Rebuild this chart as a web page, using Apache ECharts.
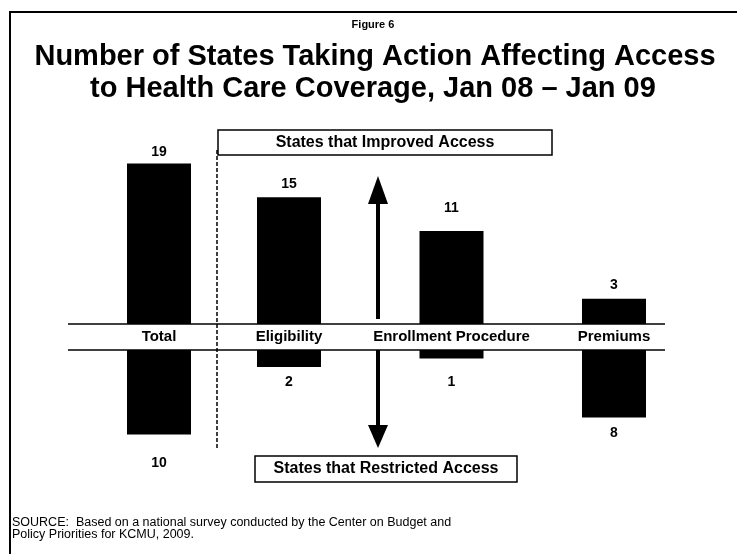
<!DOCTYPE html>
<html>
<head>
<meta charset="utf-8">
<script src="https://cdn.jsdelivr.net/npm/echarts@6/dist/echarts.min.js"></script>
<style>
  html, body { margin: 0; padding: 0; background: #fff; }
  #chart { width: 737px; height: 554px; }
</style>
</head>
<body>
<div id="chart"></div>
<script>
// data
const categories = ["Total", "Eligibility", "Enrollment Procedure", "Premiums"];
const improved = [19, 15, 11, 3];
const restricted = [10, 2, 1, 8];

// layout: which slot of the x axis each category sits in, and label gaps
const slotOf = [0, 4, 9, 14];
const SLOTS = 15;
const upGap = [4, 6, 16, 7];
const downGap = [22, 8, 17, 9];

const FONT = "'Liberation Sans', Arial, Helvetica, sans-serif";

const slotNames = [];
const upData = [];
const downData = [];
for (let i = 0; i < SLOTS; i++) {
  slotNames.push("");
  upData.push("-");
  downData.push("-");
}
categories.forEach((c, i) => {
  const s = slotOf[i];
  slotNames[s] = c;
  upData[s] = { value: improved[i], label: { distance: upGap[i] } };
  downData[s] = { value: restricted[i], label: { distance: downGap[i] } };
});

const chart = echarts.init(document.getElementById("chart"));

const gridLeft = 142.75;
const gridWidth = 487.5;

const barLabel = {
  show: true,
  color: "#000",
  fontFamily: FONT,
  fontSize: 14,
  fontWeight: "bold",
};

const option = {
  animation: false,
  backgroundColor: "#fff",
  textStyle: { fontFamily: FONT },
  grid: [
    { left: gridLeft, width: gridWidth, top: 155, height: 169 },
    { left: gridLeft, width: gridWidth, top: 350, height: 169 },
  ],
  xAxis: [
    {
      type: "category",
      gridIndex: 0,
      data: slotNames,
      axisLine: { show: false },
      axisTick: { show: false },
      axisLabel: {
        interval: 0,
        margin: 5,
        color: "#000",
        fontFamily: FONT,
        fontSize: 15,
        fontWeight: "bold",
      },
    },
    {
      type: "category",
      gridIndex: 1,
      data: slotNames,
      axisLine: { show: false },
      axisTick: { show: false },
      axisLabel: { show: false },
    },
  ],
  yAxis: [
    { type: "value", gridIndex: 0, min: 0, max: 20, show: false },
    { type: "value", gridIndex: 1, min: 0, max: 20, inverse: true, show: false },
  ],
  series: [
    {
      name: "States that Improved Access",
      type: "bar",
      xAxisIndex: 0,
      yAxisIndex: 0,
      clip: false,
      barWidth: 64,
      barMinWidth: 64,
      itemStyle: { color: "#000" },
      label: Object.assign({ position: "top" }, barLabel),
      data: upData,
    },
    {
      name: "States that Restricted Access",
      type: "bar",
      xAxisIndex: 1,
      yAxisIndex: 1,
      clip: false,
      barWidth: 64,
      barMinWidth: 64,
      itemStyle: { color: "#000" },
      label: Object.assign({ position: "bottom" }, barLabel),
      data: downData,
    },
  ],
  graphic: [
    // frame
    {
      type: "polyline",
      shape: { points: [[10, 554], [10, 12], [737, 12]] },
      style: { stroke: "#000", lineWidth: 2, fill: null },
    },
    // titles
    {
      type: "text",
      x: 373,
      y: 25,
      style: {
        text: "Figure 6",
        fill: "#000",
        font: "bold 11px " + FONT,
        textAlign: "center",
        textVerticalAlign: "middle",
      },
    },
    {
      type: "text",
      x: 375,
      y: 57,
      style: {
        text: "Number of States Taking Action Affecting Access",
        fill: "#000",
        font: "bold 29px " + FONT,
        textAlign: "center",
        textVerticalAlign: "middle",
      },
    },
    {
      type: "text",
      x: 373,
      y: 89,
      style: {
        text: "to Health Care Coverage, Jan 08 \u2013 Jan 09",
        fill: "#000",
        font: "bold 29px " + FONT,
        textAlign: "center",
        textVerticalAlign: "middle",
      },
    },
    // band lines
    {
      type: "line",
      shape: { x1: 68, y1: 324, x2: 665, y2: 324 },
      style: { stroke: "#000", lineWidth: 1.5 },
      z: 10,
    },
    {
      type: "line",
      shape: { x1: 68, y1: 350, x2: 665, y2: 350 },
      style: { stroke: "#000", lineWidth: 1.5 },
      z: 10,
    },
    // dashed separator
    {
      type: "line",
      shape: { x1: 217, y1: 150, x2: 217, y2: 450 },
      style: { stroke: "#000", lineWidth: 1.5, lineDash: [4, 2] },
    },
    // arrows
    {
      type: "polygon",
      shape: { points: [[378, 176], [388, 204], [368, 204]] },
      style: { fill: "#000" },
    },
    {
      type: "rect",
      shape: { x: 376, y: 202, width: 4, height: 117 },
      style: { fill: "#000" },
    },
    {
      type: "rect",
      shape: { x: 376, y: 350, width: 4, height: 77 },
      style: { fill: "#000" },
    },
    {
      type: "polygon",
      shape: { points: [[368, 425], [388, 425], [378, 448]] },
      style: { fill: "#000" },
    },
    // boxes
    {
      type: "rect",
      shape: { x: 218, y: 130, width: 334, height: 25 },
      style: { fill: "#fff", stroke: "#000", lineWidth: 1.5 },
    },
    {
      type: "text",
      x: 385,
      y: 142.5,
      style: {
        text: "States that Improved Access",
        fill: "#000",
        font: "bold 16px " + FONT,
        textAlign: "center",
        textVerticalAlign: "middle",
      },
    },
    {
      type: "rect",
      shape: { x: 255, y: 456, width: 262, height: 26 },
      style: { fill: "#fff", stroke: "#000", lineWidth: 1.5 },
    },
    {
      type: "text",
      x: 386,
      y: 469,
      style: {
        text: "States that Restricted Access",
        fill: "#000",
        font: "bold 16px " + FONT,
        textAlign: "center",
        textVerticalAlign: "middle",
      },
    },
    // source
    {
      type: "text",
      x: 12,
      y: 517,
      style: {
        text: "SOURCE:  Based on a national survey conducted by the Center on Budget and\nPolicy Priorities for KCMU, 2009.",
        fill: "#000",
        font: "12.5px " + FONT,
        lineHeight: 12,
      },
    },
  ],
};

chart.setOption(option);
</script>
</body>
</html>
